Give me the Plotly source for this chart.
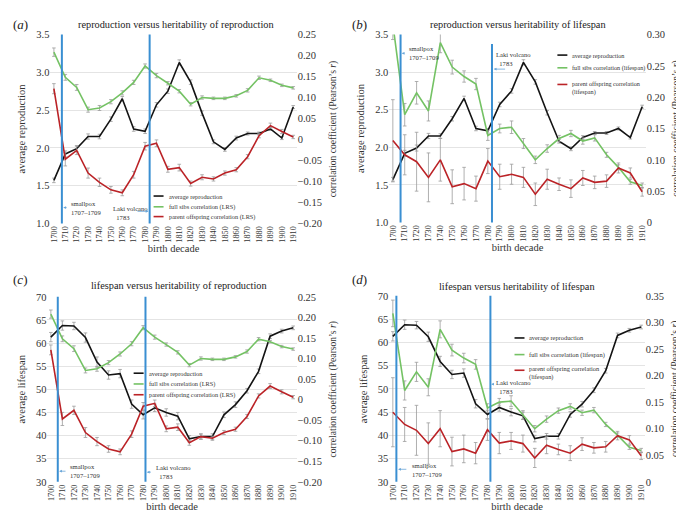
import plotly.graph_objects as go

# ---------------- data ----------------
DECADES = list(range(1700, 1911, 10))
DECADE_LABELS = [str(d) for d in DECADES]

AVG_REPRODUCTION = [1.57, 1.92, 1.99, 2.15, 2.15, 2.38, 2.65, 2.25, 2.22, 2.57, 2.75,
                    3.13, 2.87, 2.46, 2.08, 1.98, 2.13, 2.19, 2.19, 2.25, 2.13, 2.54]
AVG_REPRODUCTION_ERR = [0.03, 0.04, 0.04, 0.035, 0.03, 0.03, 0.03, 0.03, 0.03, 0.03, 0.03,
                        0.035, 0.03, 0.03, 0.025, 0.025, 0.025, 0.02, 0.02, 0.02, 0.02, 0.02]

AVG_LIFESPAN = [61.3, 63.8, 63.7, 61.2, 55.9, 53.1, 53.4, 46.8, 44.5, 46.0, 45.0,
                44.2, 39.3, 39.8, 39.8, 44.5, 46.7, 49.7, 53.9, 61.5, 62.6, 63.3]
AVG_LIFESPAN_ERR = [1.0, 1.0, 0.8, 1.0, 1.1, 0.9, 0.9, 0.9, 0.9, 0.8, 0.8,
                    0.8, 0.7, 0.6, 0.6, 0.6, 0.6, 0.5, 0.5, 0.5, 0.4, 0.4]

SIBS_LRS = [0.208, 0.148, 0.124, 0.071, 0.075, 0.090, 0.111, 0.136, 0.175, 0.152, 0.134,
            0.115, 0.084, 0.100, 0.098, 0.098, 0.104, 0.117, 0.147, 0.141, 0.129, 0.123]
SIBS_LRS_ERR = [0.010, 0.007, 0.007, 0.006, 0.006, 0.005, 0.005, 0.005, 0.005, 0.005, 0.004,
                0.004, 0.004, 0.004, 0.003, 0.003, 0.003, 0.004, 0.004, 0.003, 0.003, 0.003]

PARENT_LRS = [0.121, -0.047, -0.026, -0.080, -0.102, -0.120, -0.127, -0.084, -0.016, -0.009, -0.071,
              -0.067, -0.105, -0.090, -0.094, -0.080, -0.072, -0.041, 0.009, 0.033, 0.019, 0.006]
PARENT_LRS_ERR = [0.012, 0.016, 0.010, 0.012, 0.010, 0.008, 0.007, 0.008, 0.009, 0.008, 0.007,
                  0.008, 0.006, 0.006, 0.005, 0.005, 0.005, 0.005, 0.005, 0.006, 0.005, 0.004]

SIBS_LIFESPAN = [0.317, 0.172, 0.207, 0.178, 0.287, 0.248, 0.233, 0.221, 0.139, 0.150, 0.152,
                 0.126, 0.100, 0.118, 0.134, 0.142, 0.130, 0.135, 0.108, 0.088, 0.065, 0.059]
SIBS_LIFESPAN_ERR = [0.025, 0.018, 0.018, 0.016, 0.016, 0.011, 0.009, 0.009, 0.008, 0.007, 0.010,
                     0.008, 0.006, 0.006, 0.005, 0.005, 0.005, 0.005, 0.004, 0.004, 0.004, 0.004]

PARENT_LIFESPAN = [0.131, 0.108, 0.097, 0.072, 0.100, 0.057, 0.062, 0.054, 0.098, 0.073, 0.077,
                   0.072, 0.045, 0.069, 0.061, 0.054, 0.071, 0.064, 0.066, 0.087, 0.079, 0.049]
PARENT_LIFESPAN_ERR = [0.065, 0.032, 0.047, 0.039, 0.034, 0.027, 0.026, 0.020, 0.020, 0.020, 0.016,
                       0.016, 0.018, 0.016, 0.010, 0.014, 0.012, 0.010, 0.010, 0.008, 0.008, 0.007]

REPRO_TICKS = [1.0, 1.5, 2.0, 2.5, 3.0, 3.5]
REPRO_TICKTEXT = ["1.0", "1.5", "2.0", "2.5", "3.0", "3.5"]
LIFE_TICKS = [30, 35, 40, 45, 50, 55, 60, 65, 70]
LIFE_TICKTEXT = [str(v) for v in LIFE_TICKS]
R_LRS_TICKS = [-0.20, -0.15, -0.10, -0.05, 0, 0.05, 0.10, 0.15, 0.20, 0.25]
R_LRS_TICKTEXT = ["\u22120.20", "\u22120.15", "\u22120.10", "\u22120.05", "0",
                  "0.05", "0.10", "0.15", "0.20", "0.25"]
R_LIFE30_TICKS = [0, 0.05, 0.10, 0.15, 0.20, 0.25, 0.30]
R_LIFE30_TICKTEXT = ["0", "0.05", "0.10", "0.15", "0.20", "0.25", "0.30"]
R_LIFE35_TICKS = [0, 0.05, 0.10, 0.15, 0.20, 0.25, 0.30, 0.35]
R_LIFE35_TICKTEXT = ["0", "0.05", "0.10", "0.15", "0.20", "0.25", "0.30", "0.35"]

SMALLPOX_YEAR = [1707, 1706.5, 1706, 1703]
LAKI_YEAR = [1784, 1783.5, 1782, 1782.5]

# ---------------- style ----------------
FONT = "Liberation Serif, Times New Roman, serif"
BLACK = "#141414"
GREEN = "#74c264"
RED = "#bb2327"
BLUE = "#3a8fd2"
ERR = "#9c9c9c"
GRID = "#e4e4e4"
TXT = "#333333"
W, H = 684, 519


def px_x(p):
    return p / W


def px_y(p):
    return 1 - p / H


panels = [
    dict(xdom=[41.6, 288.5], ydom=[215, 22],
         title="reproduction versus heritability of reproduction", title_xy=(167, 12),
         label="(<i>a</i>)", label_xy=(2, 12),
         left=AVG_REPRODUCTION, left_err=AVG_REPRODUCTION_ERR, left_range=[1.0, 3.5],
         left_ticks=REPRO_TICKS, left_ticktext=REPRO_TICKTEXT, left_title="average reproduction",
         green=SIBS_LRS, green_err=SIBS_LRS_ERR, red=PARENT_LRS, red_err=PARENT_LRS_ERR,
         right_range=[-0.20, 0.25], right_ticks=R_LRS_TICKS, right_ticktext=R_LRS_TICKTEXT,
         names=["average reproduction", "full sibs correlation (LRS)", "parent offspring correlation (LRS)"],
         leg=dict(sw=(145, 155), tx=158, ys=(187, 198, 208), tys=(187, 198, 208), size=6.3),
         smallpox=dict(text=(1713, 1.21), arrow=(1712.5, 1708.2, 1.21)),
         laki=dict(text=(1750.5, 1.14), arrow=(1772.0, 1783.0, 1.16)),
         laki_top=1.0),
    dict(xdom=[381.4, 638.6], ydom=[214, 22],
         title="reproduction versus heritability of lifespan", title_xy=(510, 12),
         label="(<i>b</i>)", label_xy=(342, 12),
         left=AVG_REPRODUCTION, left_err=AVG_REPRODUCTION_ERR, left_range=[1.0, 3.5],
         left_ticks=REPRO_TICKS, left_ticktext=REPRO_TICKTEXT, left_title="average reproduction",
         green=SIBS_LIFESPAN, green_err=SIBS_LIFESPAN_ERR, red=PARENT_LIFESPAN, red_err=PARENT_LIFESPAN_ERR,
         right_range=[0, 0.30], right_ticks=R_LIFE30_TICKS, right_ticktext=R_LIFE30_TICKTEXT,
         names=["average reproduction", "full sibs correlation (lifespan)",
                "parent offspring correlation<br>(lifespan)"],
         leg=dict(sw=(550, 560), tx=563, ys=(43, 56, 73), tys=(43, 56, 77), size=6.2),
         smallpox=dict(text=(1712.2, 3.25), arrow=(1711.0, 1707.5, 3.25)),
         laki=dict(text=(1785.2, 3.17), arrow=(1795.8, 1785.0, 3.04)),
         laki_top=0.95),
    dict(xdom=[38.5, 288.5], ydom=[479, 290],
         title="lifespan versus heritability of reproduction", title_xy=(170, 278),
         label="(<i>c</i>)", label_xy=(2, 272),
         left=AVG_LIFESPAN, left_err=AVG_LIFESPAN_ERR, left_range=[30, 70],
         left_ticks=LIFE_TICKS, left_ticktext=LIFE_TICKTEXT, left_title="average lifespan",
         green=SIBS_LRS, green_err=SIBS_LRS_ERR, red=PARENT_LRS, red_err=PARENT_LRS_ERR,
         right_range=[-0.20, 0.25], right_ticks=R_LRS_TICKS, right_ticktext=R_LRS_TICKTEXT,
         names=["average reproduction", "full sibs correlation (LRS)", "parent offspring correlation (LRS)"],
         leg=dict(sw=(125, 135), tx=138, ys=(368, 379, 390), tys=(368, 379, 390), size=6.3),
         smallpox=dict(text=(1714.7, 32.4), arrow=(1714.0, 1707.2, 32.3)),
         laki=dict(text=(1789, 32.1), arrow=(1788.0, 1783.2, 32.1)),
         laki_top=1.0),
    dict(xdom=[381.4, 637.6], ydom=[479, 289],
         title="lifespan versus heritability of lifespan", title_xy=(509, 279),
         label="(<i>d</i>)", label_xy=(342, 272),
         left=AVG_LIFESPAN, left_err=AVG_LIFESPAN_ERR, left_range=[30, 70],
         left_ticks=LIFE_TICKS, left_ticktext=LIFE_TICKTEXT, left_title="average lifespan",
         green=SIBS_LIFESPAN, green_err=SIBS_LIFESPAN_ERR, red=PARENT_LIFESPAN, red_err=PARENT_LIFESPAN_ERR,
         right_range=[0, 0.35], right_ticks=R_LIFE35_TICKS, right_ticktext=R_LIFE35_TICKTEXT,
         names=["average reproduction", "full sibs correlation (lifespan)",
                "parent offspring correlation<br>(lifespan)"],
         leg=dict(sw=(507, 517), tx=520, ys=(332, 349, 365), tys=(332, 349, 368), size=6.4),
         smallpox=dict(text=(1714.2, 32.6), arrow=(1712.7, 1704.5, 32.7)),
         laki=dict(text=(1785.3, 50.4), arrow=(1786.0, 1783.2, 51.0)),
         laki_top=1.0),
]

fig = go.Figure()
layout = dict(
    width=W, height=H, margin=dict(l=0, r=0, t=0, b=0),
    paper_bgcolor="white", plot_bgcolor="white",
    font=dict(family=FONT, color=TXT, size=10),
    showlegend=False,
)
annotations = []
shapes = []


def ekw(arr):
    return dict(type="data", array=arr, visible=True, color=ERR, thickness=0.8, width=1.8)


for i, p in enumerate(panels):
    xn = "x" if i == 0 else f"x{i+1}"
    ly = 2 * i + 1
    ry = 2 * i + 2
    lyn = "y" if ly == 1 else f"y{ly}"
    ryn = f"y{ry}"

    fig.add_trace(go.Scatter(x=DECADES, y=p["left"], error_y=ekw(p["left_err"]), mode="lines",
                             line=dict(color=BLACK, width=1.6), name=p["names"][0],
                             xaxis=xn, yaxis=lyn))
    fig.add_trace(go.Scatter(x=DECADES, y=p["green"], error_y=ekw(p["green_err"]), mode="lines",
                             line=dict(color=GREEN, width=1.6), name=p["names"][1],
                             xaxis=xn, yaxis=ryn))
    fig.add_trace(go.Scatter(x=DECADES, y=p["red"], error_y=ekw(p["red_err"]), mode="lines",
                             line=dict(color=RED, width=1.6), name=p["names"][2],
                             xaxis=xn, yaxis=ryn))

    xk = "xaxis" if i == 0 else f"xaxis{i+1}"
    lyk = "yaxis" if ly == 1 else f"yaxis{ly}"
    ryk = f"yaxis{ry}"
    layout[xk] = dict(domain=[px_x(p["xdom"][0]), px_x(p["xdom"][1])], anchor=lyn,
                      range=[1697, 1913], tickmode="array", tickvals=DECADES, ticktext=DECADE_LABELS,
                      tickangle=-90, tickfont=dict(size=8.3, family=FONT, color=TXT),
                      showgrid=False, zeroline=False, showline=False, ticks="",
                      title=dict(text="birth decade", font=dict(size=10.5, family=FONT, color=TXT),
                                 standoff=0))
    layout[lyk] = dict(domain=[px_y(p["ydom"][0]), px_y(p["ydom"][1])], anchor=xn,
                       range=p["left_range"], tickmode="array", tickvals=p["left_ticks"],
                       ticktext=p["left_ticktext"], tickfont=dict(size=10.5, family=FONT, color=TXT),
                       showgrid=True, gridcolor=GRID, gridwidth=0.8, zeroline=False, showline=False,
                       ticks="", title=dict(text=p["left_title"],
                                            font=dict(size=10.5, family=FONT, color=TXT), standoff=8))
    layout[ryk] = dict(overlaying=lyn, side="right", anchor=xn, range=p["right_range"],
                       tickmode="array", tickvals=p["right_ticks"], ticktext=p["right_ticktext"],
                       tickfont=dict(size=10.5, family=FONT, color=TXT),
                       showgrid=False, zeroline=False, showline=False, ticks="",
                       title=dict(text="correlation coefficient (Pearson\u2019s <i>r</i>)",
                                  font=dict(size=9.6, family=FONT, color=TXT), standoff=8))

    # event lines
    shapes.append(dict(type="line", xref=xn, yref=f"{lyn} domain", x0=SMALLPOX_YEAR[i], x1=SMALLPOX_YEAR[i],
                       y0=0, y1=1.0, line=dict(color=BLUE, width=2)))
    shapes.append(dict(type="line", xref=xn, yref=f"{lyn} domain", x0=LAKI_YEAR[i], x1=LAKI_YEAR[i],
                       y0=0, y1=p["laki_top"], line=dict(color=BLUE, width=2)))

    # event text
    tfont = dict(size=6.6, family=FONT, color=TXT)
    sx, sy = p["smallpox"]["text"]
    annotations.append(dict(x=sx, y=sy, xref=xn, yref=lyn, text="smallpox<br>1707\u20131709",
                            showarrow=False, xanchor="left", yanchor="middle", align="left", font=tfont))
    lx, lyv = p["laki"]["text"]
    annotations.append(dict(x=lx, y=lyv, xref=xn, yref=lyn, text="Laki volcano<br>\u00a0\u00a01783",
                            showarrow=False, xanchor="left", yanchor="middle", align="left", font=tfont))
    for key in ("smallpox", "laki"):
        t, hd, yy = p[key]["arrow"]
        annotations.append(dict(x=hd, y=yy, ax=t, ay=yy, xref=xn, yref=lyn, axref=xn, ayref=lyn,
                                text="", showarrow=True, arrowhead=2, arrowsize=0.7, arrowwidth=0.8,
                                arrowcolor="#6aa6d8", standoff=0, startstandoff=0))

    # legend (per panel, compact like the reference)
    lg = p["leg"]
    for name, col, yy, ty in zip(p["names"], (BLACK, GREEN, RED), lg["ys"], lg["tys"]):
        shapes.append(dict(type="line", xref="paper", yref="paper",
                           x0=px_x(lg["sw"][0]), x1=px_x(lg["sw"][1]), y0=px_y(yy), y1=px_y(yy),
                           line=dict(color=col, width=1.6)))
        annotations.append(dict(x=px_x(lg["tx"]), y=px_y(ty), xref="paper", yref="paper", text=name,
                                showarrow=False, xanchor="left", yanchor="middle", align="left",
                                font=dict(size=lg["size"], family=FONT, color=TXT)))

    # title and panel label
    annotations.append(dict(x=px_x(p["title_xy"][0]), y=px_y(p["title_xy"][1]), xref="paper", yref="paper",
                            text=p["title"], showarrow=False, xanchor="center", yanchor="middle",
                            font=dict(size=10.3, family=FONT, color="#222222")))
    annotations.append(dict(x=px_x(p["label_xy"][0]), y=px_y(p["label_xy"][1]), xref="paper", yref="paper",
                            text=p["label"], showarrow=False, xanchor="left", yanchor="middle",
                            font=dict(size=13, family=FONT, color="#222222")))

layout["annotations"] = annotations
layout["shapes"] = shapes
fig.update_layout(**layout)
fig.write_html("out.html")
